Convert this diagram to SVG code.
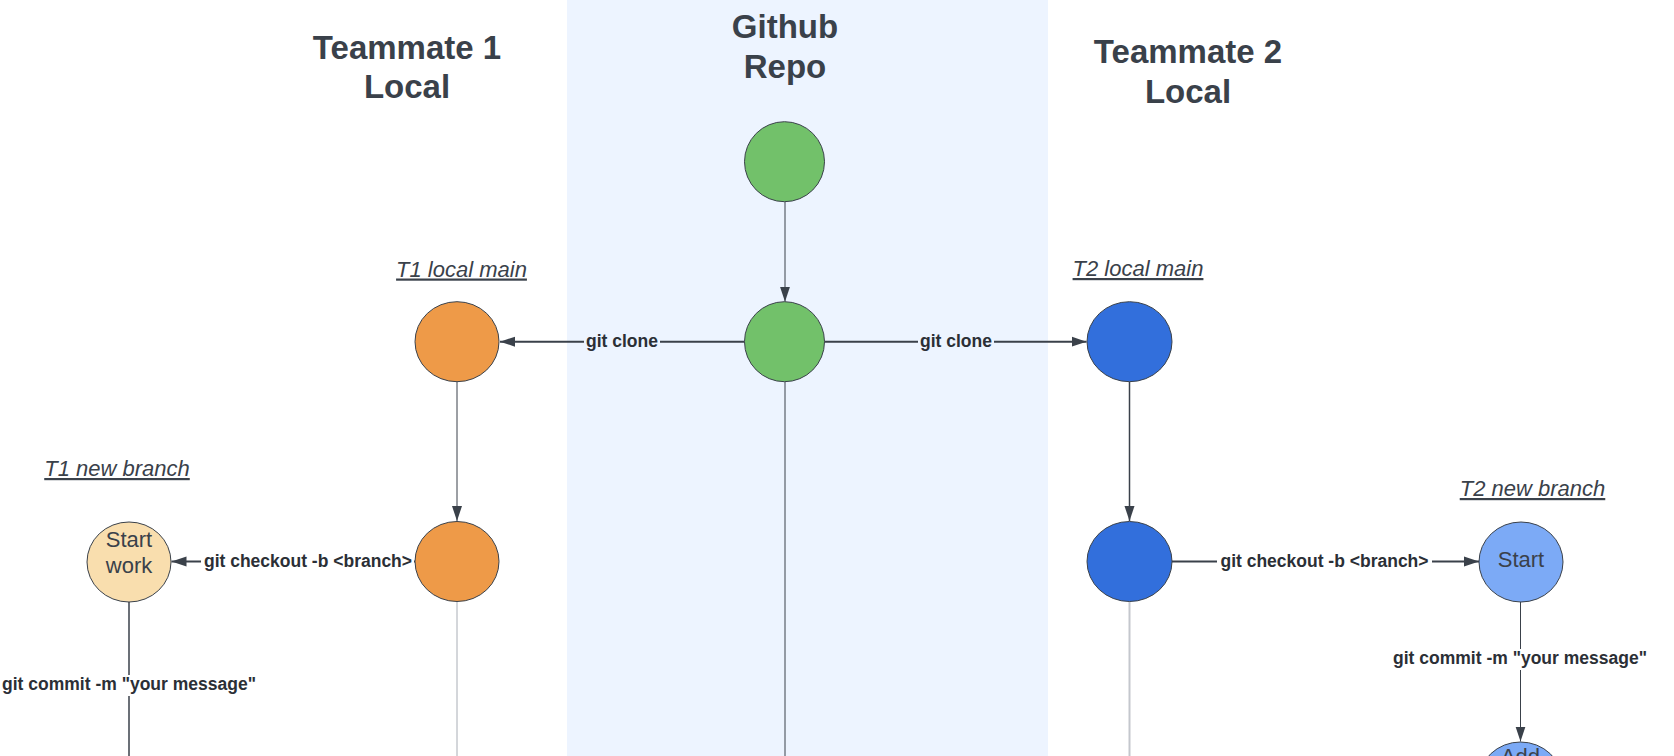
<svg xmlns="http://www.w3.org/2000/svg" width="1674" height="756" viewBox="0 0 1674 756">
<style>
.h{font-family:"Liberation Sans",Arial,sans-serif;font-weight:bold;font-size:33px;fill:#3A414A;text-anchor:middle}
.s{font-family:"Liberation Sans",Arial,sans-serif;font-style:italic;font-size:22px;fill:#3A414A;text-anchor:middle;text-decoration:underline}
.l{font-family:"Liberation Sans",Arial,sans-serif;font-weight:bold;font-size:17.5px;fill:#2B2F36;text-anchor:middle}
.n{font-family:"Liberation Sans",Arial,sans-serif;font-size:22px;fill:#3A414A;text-anchor:middle}
.c{stroke:#3A414A;stroke-width:1}
.e{stroke:#3A414A;fill:none}
</style>
<defs>
<marker id="ah" markerUnits="userSpaceOnUse" markerWidth="16" markerHeight="12" refX="15" refY="6" orient="auto">
<path d="M0,1 L15,6 L0,11 z" fill="#3A414A"/>
</marker>
</defs>
<rect x="0" y="0" width="1674" height="756" fill="#FFFFFF"/>
<rect id="panel" x="567" y="0" width="481" height="756" fill="#EDF4FF"/>
<g id="headings">
<text class="h" x="407" y="59">Teammate 1</text>
<text class="h" x="407" y="98">Local</text>
<text class="h" x="785" y="38">Github</text>
<text class="h" x="785" y="78">Repo</text>
<text class="h" x="1188" y="63">Teammate 2</text>
<text class="h" x="1188" y="103">Local</text>
</g>
<g id="branch-labels">
<text class="s" x="461.5" y="276.5">T1 local main</text>
<text class="s" x="1138" y="276">T2 local main</text>
<text class="s" x="117" y="476">T1 new branch</text>
<text class="s" x="1532.5" y="496">T2 new branch</text>
</g>
<g id="connectors">
<line class="e" x1="785" y1="201.7" x2="785" y2="301.7" stroke-width="1" marker-end="url(#ah)"/>
<line class="e" x1="744.5" y1="341.7" x2="500" y2="341.7" stroke-width="2" marker-end="url(#ah)"/>
<line class="e" x1="824.5" y1="341.7" x2="1086.5" y2="341.7" stroke-width="2" marker-end="url(#ah)"/>
<line class="e" x1="457" y1="381.7" x2="457" y2="521" stroke-width="1" marker-end="url(#ah)"/>
<line class="e" x1="1129.5" y1="381.7" x2="1129.5" y2="521" stroke-width="1.5" marker-end="url(#ah)"/>
<line class="e" x1="415" y1="561.5" x2="171.5" y2="561.5" stroke-width="2" marker-end="url(#ah)"/>
<line class="e" x1="1172" y1="561.5" x2="1479" y2="561.5" stroke-width="2" marker-end="url(#ah)"/>
<line class="e" x1="1520.5" y1="602" x2="1520.5" y2="741.5" stroke-width="1" marker-end="url(#ah)"/>
<line class="e" x1="129" y1="602" x2="129" y2="756" stroke-width="1.5"/>
<line class="e" x1="785" y1="381.7" x2="785" y2="756" stroke-width="1"/>
<line x1="457" y1="601.5" x2="457" y2="756" stroke="#A9AEB6" stroke-width="1"/>
<line x1="1129.5" y1="601.5" x2="1129.5" y2="756" stroke="#C4C7CD" stroke-width="2"/>
<rect x="584" y="332" width="76" height="20" fill="#EDF4FF"/>
<text class="l" x="622" y="347">git clone</text>
<rect x="918" y="332" width="76" height="20" fill="#EDF4FF"/>
<text class="l" x="956" y="347">git clone</text>
<rect x="201" y="551" width="213" height="21" fill="#FFFFFF"/>
<text class="l" x="308" y="567">git checkout -b &lt;branch&gt;</text>
<rect x="1217" y="551" width="215" height="21" fill="#FFFFFF"/>
<text class="l" x="1324.5" y="567">git checkout -b &lt;branch&gt;</text>
<rect x="0" y="675" width="262" height="21" fill="#FFFFFF"/>
<text class="l" x="129" y="690">git commit -m "your message"</text>
<rect x="1390" y="649" width="260" height="21" fill="#FFFFFF"/>
<text class="l" x="1520" y="664">git commit -m "your message"</text>
</g>
<g id="gh-commit-1"><circle class="c" cx="784.5" cy="161.7" r="40" fill="#72C16A"/></g>
<g id="gh-commit-2"><circle class="c" cx="784.5" cy="341.7" r="40" fill="#72C16A"/></g>
<g id="t1-main-1"><ellipse class="c" cx="457" cy="341.7" rx="42" ry="40" fill="#EE9A48"/></g>
<g id="t1-main-2"><ellipse class="c" cx="457" cy="561.5" rx="42" ry="40" fill="#EE9A48"/></g>
<g id="t2-main-1"><ellipse class="c" cx="1129.5" cy="341.7" rx="42.5" ry="40" fill="#326FDC"/></g>
<g id="t2-main-2"><ellipse class="c" cx="1129.5" cy="561.5" rx="42.5" ry="40" fill="#326FDC"/></g>
<g id="t1-start"><ellipse class="c" cx="129" cy="562" rx="42" ry="40" fill="#F9DEAE"/>
<text class="n" x="129" y="547">Start</text><text class="n" x="129" y="573">work</text></g>
<g id="t2-start"><ellipse class="c" cx="1521" cy="562" rx="42" ry="40" fill="#7CAAF6"/>
<text class="n" x="1521" y="567">Start</text></g>
<g id="t2-add"><ellipse class="c" cx="1520.5" cy="782" rx="42" ry="40" fill="#7CAAF6"/>
<text class="n" x="1520.5" y="764">Add</text></g>
</svg>
